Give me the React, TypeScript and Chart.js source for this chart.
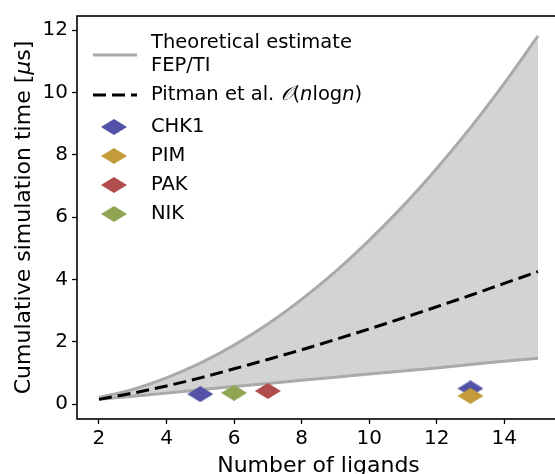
import React, { useEffect, useRef } from "react";
import { Chart, registerables } from "chart.js";

Chart.register(...registerables);

// Number of ligands (x) for the theoretical curves
const nLigands = [2, 3, 4, 5, 6, 7, 8, 9, 10, 11, 12, 13, 14, 15];
// Upper bound of the FEP/TI theoretical estimate (µs)
const fepUpper = [0.21, 0.47, 0.84, 1.31, 1.89, 2.57, 3.36, 4.25, 5.25, 6.35, 7.56, 8.87, 10.29, 11.81];
// Lower bound of the FEP/TI theoretical estimate (µs)
const fepLower = [0.15, 0.25, 0.35, 0.46, 0.56, 0.66, 0.76, 0.86, 0.96, 1.06, 1.16, 1.27, 1.37, 1.47];
// Pitman et al. O(n log n)
const pitman = [0.15, 0.35, 0.58, 0.84, 1.13, 1.43, 1.74, 2.07, 2.41, 2.76, 3.12, 3.49, 3.87, 4.25];

// Measured systems
const chk1X = [5, 13];
const chk1Y = [0.32, 0.5];
const pimX = [13];
const pimY = [0.26];
const pakX = [7];
const pakY = [0.42];
const nikX = [6];
const nikY = [0.36];

const xTicks = [2, 4, 6, 8, 10, 12, 14];
const yTicks = [0, 2, 4, 6, 8, 10, 12];

const COLORS = {
  CHK1: "#5252a6",
  PIM: "#c39b3a",
  PAK: "#b04c4c",
  NIK: "#8fa553",
};

const FONT = "DejaVu Sans";
const LEG = 19.5;
const AX = 22;

function diamond(color: string, w: number, h: number): HTMLCanvasElement {
  const c = document.createElement("canvas");
  c.width = w;
  c.height = h;
  const ctx = c.getContext("2d")!;
  ctx.fillStyle = color;
  ctx.beginPath();
  ctx.moveTo(w / 2, 0);
  ctx.lineTo(w, h / 2);
  ctx.lineTo(w / 2, h);
  ctx.lineTo(0, h / 2);
  ctx.closePath();
  ctx.fill();
  return c;
}

const pts = (xs: number[], ys: number[]) => xs.map((x, i) => ({ x, y: ys[i] }));

export default function App() {
  const ref = useRef<HTMLCanvasElement | null>(null);

  useEffect(() => {
    if (!ref.current) return;
    const dm = {
      CHK1: diamond(COLORS.CHK1, 26, 16),
      PIM: diamond(COLORS.PIM, 26, 16),
      PAK: diamond(COLORS.PAK, 26, 16),
      NIK: diamond(COLORS.NIK, 26, 16),
    };

    const decor = {
      id: "decor",
      afterDraw(chart: any) {
        const ctx = chart.ctx as CanvasRenderingContext2D;
        const a = chart.chartArea;
        ctx.save();
        // frame
        ctx.strokeStyle = "#000";
        ctx.lineWidth = 1.6;
        ctx.strokeRect(a.left, a.top, a.right - a.left, a.bottom - a.top);

        // legend
        const nf = `${LEG}px "${FONT}"`;
        const itf = `italic ${LEG}px "${FONT}"`;
        ctx.font = nf;
        ctx.fillStyle = "#000";
        ctx.textBaseline = "middle";
        ctx.textAlign = "left";
        ctx.lineCap = "butt";
        ctx.strokeStyle = "#aaaaaa";
        ctx.lineWidth = 3;
        ctx.beginPath();
        ctx.moveTo(93, 55);
        ctx.lineTo(137, 55);
        ctx.stroke();
        ctx.fillText("Theoretical estimate", 151, 43);
        ctx.fillText("FEP/TI", 151, 66);

        ctx.strokeStyle = "#000";
        ctx.setLineDash([13, 6]);
        ctx.beginPath();
        ctx.moveTo(93, 95);
        ctx.lineTo(137, 95);
        ctx.stroke();
        ctx.setLineDash([]);
        let x = 151;
        const parts: [string, string][] = [
          ["Pitman et al. ", nf],
          ["\u{1D4AA}", itf],
          ["(", nf],
          ["n", itf],
          ["log", nf],
          ["n", itf],
          [")", nf],
        ];
        for (const [t, f] of parts) {
          ctx.font = f;
          ctx.fillText(t, x, 95);
          x += ctx.measureText(t).width;
        }
        ctx.font = nf;

        const items: [string, HTMLCanvasElement, number][] = [
          ["CHK1", dm.CHK1, 127],
          ["PIM", dm.PIM, 156],
          ["PAK", dm.PAK, 185],
          ["NIK", dm.NIK, 214],
        ];
        for (const [name, img, y] of items) {
          ctx.drawImage(img, 114 - 13, y - 8);
          ctx.fillText(name, 151, y);
        }

        // x axis title
        ctx.font = `${AX}px "${FONT}"`;
        ctx.textAlign = "center";
        ctx.fillText("Number of ligands", (a.left + a.right) / 2, 466);

        // y axis title (rotated)
        ctx.translate(24, (a.top + a.bottom) / 2);
        ctx.rotate(-Math.PI / 2);
        const yparts: [string, string][] = [
          ["Cumulative simulation time [", `${AX}px "${FONT}"`],
          ["\u03bc", `italic ${AX}px "${FONT}"`],
          ["s]", `${AX}px "${FONT}"`],
        ];
        let total = 0;
        for (const [t, f] of yparts) {
          ctx.font = f;
          total += ctx.measureText(t).width;
        }
        ctx.textAlign = "left";
        let sx = -total / 2;
        for (const [t, f] of yparts) {
          ctx.font = f;
          ctx.fillText(t, sx, 0);
          sx += ctx.measureText(t).width;
        }
        ctx.restore();
      },
    };

    const chart = new Chart(ref.current, {
      type: "line",
      data: {
        datasets: [
          {
            label: "upper",
            data: pts(nLigands, fepUpper),
            borderColor: "#aaaaaa",
            borderWidth: 3,
            backgroundColor: "#d3d3d3",
            fill: 1,
            pointRadius: 0,
            cubicInterpolationMode: "monotone",
            order: 10,
          },
          {
            label: "lower",
            data: pts(nLigands, fepLower),
            borderColor: "#aaaaaa",
            borderWidth: 3,
            fill: false,
            pointRadius: 0,
            cubicInterpolationMode: "monotone",
            order: 9,
          },
          {
            label: "Pitman",
            data: pts(nLigands, pitman),
            borderColor: "#000000",
            borderWidth: 3,
            borderDash: [13, 6],
            fill: false,
            pointRadius: 0,
            cubicInterpolationMode: "monotone",
            order: 8,
          },
          {
            label: "CHK1",
            data: pts(chk1X, chk1Y),
            showLine: false,
            pointStyle: dm.CHK1,
            pointRadius: 13,
            order: 3,
          },
          {
            label: "PIM",
            data: pts(pimX, pimY),
            showLine: false,
            pointStyle: dm.PIM,
            pointRadius: 13,
            order: 0,
          },
          {
            label: "PAK",
            data: pts(pakX, pakY),
            showLine: false,
            pointStyle: dm.PAK,
            pointRadius: 13,
            order: 1,
          },
          {
            label: "NIK",
            data: pts(nikX, nikY),
            showLine: false,
            pointStyle: dm.NIK,
            pointRadius: 13,
            order: 2,
          },
        ] as any,
      },
      options: {
        animation: false,
        responsive: false,
        layout: { padding: { left: 0, right: 20, top: 15, bottom: 0 } },
        plugins: { legend: { display: false }, tooltip: { enabled: false } },
        scales: {
          x: {
            type: "linear",
            min: 1.35,
            max: 15.65,
            afterFit: (s: any) => {
              s.height = 81;
            },
            afterBuildTicks: (s: any) => {
              s.ticks = xTicks.map((v) => ({ value: v }));
            },
            grid: { drawOnChartArea: false, drawTicks: true, tickLength: 5, tickColor: "#000", tickWidth: 1.3 },
            border: { display: false },
            ticks: { color: "#000", font: { family: FONT, size: 20 }, padding: 3, maxRotation: 0 },
          },
          y: {
            type: "linear",
            min: -0.48,
            max: 12.45,
            afterFit: (s: any) => {
              s.width = 77;
            },
            afterBuildTicks: (s: any) => {
              s.ticks = yTicks.map((v) => ({ value: v }));
            },
            grid: { drawOnChartArea: false, drawTicks: true, tickLength: 5, tickColor: "#000", tickWidth: 1.3 },
            border: { display: false },
            ticks: { color: "#000", font: { family: FONT, size: 20 }, padding: 4 },
          },
        },
      },
      plugins: [decor],
    });
    return () => chart.destroy();
  }, []);

  return (
    <div style={{ position: "fixed", left: 0, top: 0, width: 555, height: 474, overflow: "hidden", background: "#fff" }}>
      <canvas ref={ref} width={580} height={500} style={{ display: "block" }} />
    </div>
  );
}
